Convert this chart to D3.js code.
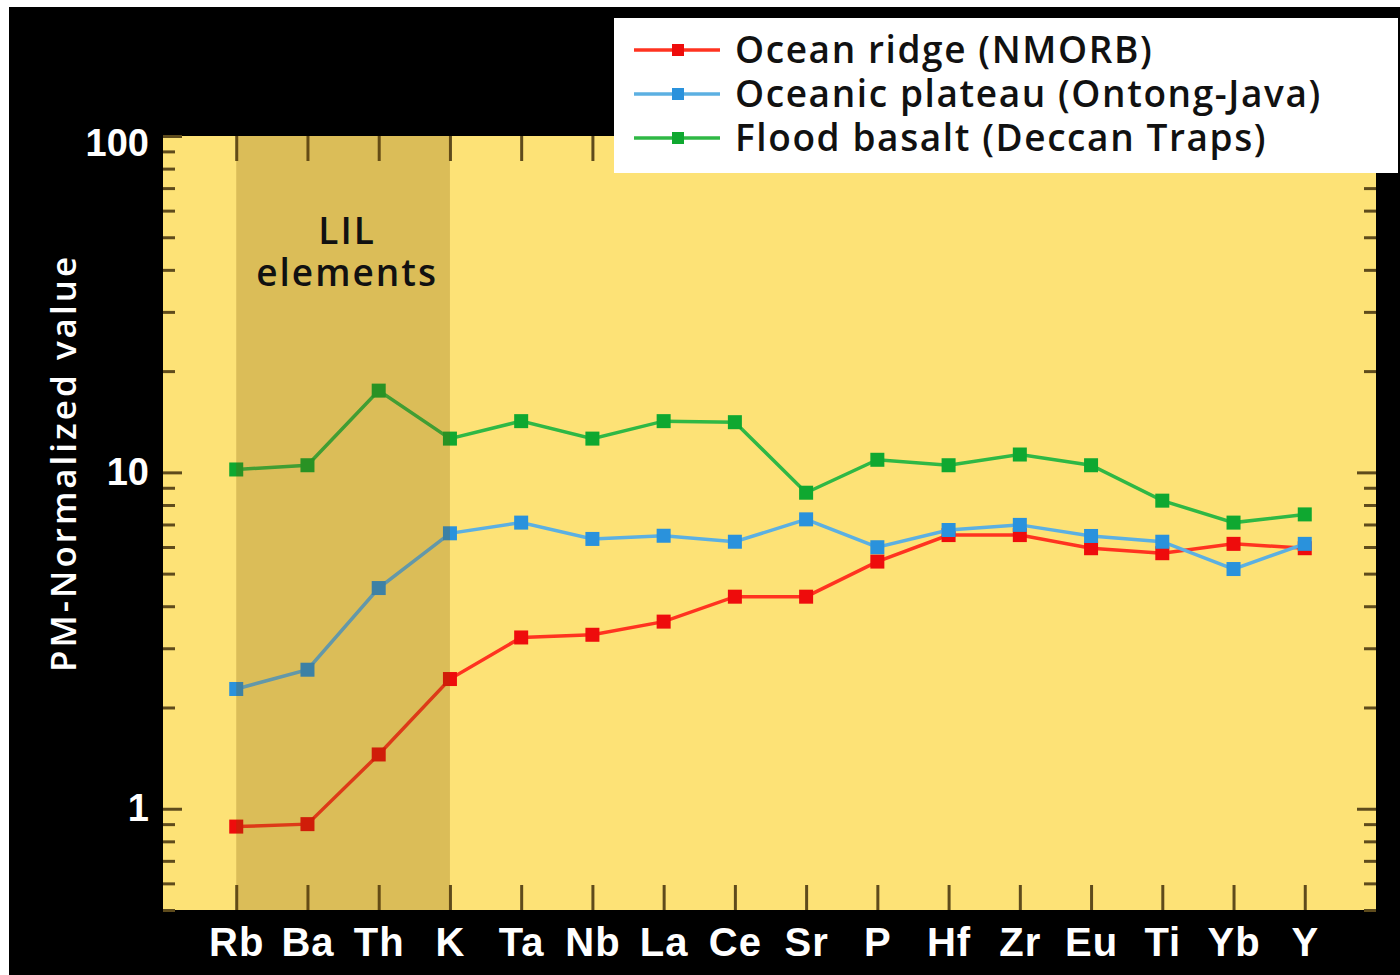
<!DOCTYPE html>
<html>
<head>
<meta charset="utf-8">
<script src="https://cdn.jsdelivr.net/npm/d3@7"></script>
<style>
  html, body { margin: 0; padding: 0; background: #fff; }
  svg { display: block; font-family: "Open Sans", "DejaVu Sans", sans-serif; }
</style>
</head>
<body>
<svg id="chart"></svg>
<script>
// element order on the x axis
var categories = ["Rb", "Ba", "Th", "K", "Ta", "Nb", "La", "Ce", "Sr", "P", "Hf", "Zr", "Eu", "Ti", "Yb", "Y"];

// primitive-mantle normalized values
var nmorb      = [0.885, 0.90, 1.45, 2.43, 3.23, 3.29, 3.60, 4.27, 4.27, 5.43, 6.51, 6.51, 5.95, 5.75, 6.13, 5.95];
var ontongJava = [2.27, 2.59, 4.53, 6.59, 7.09, 6.34, 6.48, 6.22, 7.25, 5.99, 6.74, 6.98, 6.47, 6.22, 5.16, 6.13];
var deccan     = [10.2, 10.5, 17.5, 12.6, 14.2, 12.6, 14.2, 14.1, 8.7, 10.9, 10.5, 11.3, 10.5, 8.24, 7.09, 7.5];

var seriesNames = ["Ocean ridge (NMORB)", "Oceanic plateau (Ontong-Java)", "Flood basalt (Deccan Traps)"];
var yMajorTicks = [1, 10, 100];
var lilBand = ["Rb", "K"];

var W = 1400, H = 975;
var plot = {left: 163, right: 1376, top: 136, bottom: 910};

var svg = d3.select("#chart").attr("width", W).attr("height", H);

// white frame + black backdrop
svg.append("rect").attr("width", W).attr("height", H).attr("fill", "#fff");
svg.append("rect").attr("x", 9).attr("y", 7).attr("width", W - 9).attr("height", H - 7).attr("fill", "#000");

svg.append("rect")
    .attr("x", plot.left).attr("y", plot.top)
    .attr("width", plot.right - plot.left).attr("height", plot.bottom - plot.top)
    .attr("fill", "#fde276");

var x = d3.scalePoint().domain(categories).range([plot.left + 2, plot.right]).padding(1);
var y = d3.scaleLog().domain([0.5, 100]).range([plot.bottom, plot.top]);

var yMinorTicks = y.ticks().filter(function(v) { return yMajorTicks.indexOf(v) < 0; });
var tickColor = "#5e4b1c";

function styleAxis(g) {
  g.select(".domain").remove();
  g.selectAll(".tick line").attr("stroke", tickColor).attr("stroke-width", 3);
}

// left axis
svg.append("g")
    .attr("transform", "translate(" + plot.left + ",0)")
    .call(d3.axisLeft(y).tickValues(yMinorTicks).tickSize(-12).tickFormat(""))
    .call(styleAxis);
svg.append("g")
    .attr("transform", "translate(" + plot.left + ",0)")
    .call(d3.axisLeft(y).tickValues(yMajorTicks).tickSize(-19).tickPadding(14).tickFormat(d3.format("d")))
    .call(styleAxis)
  .selectAll("text")
    .attr("fill", "#fff")
    .attr("dy", function(d) { return d === 100 ? "0.5em" : "0.32em"; })
    .style("font-size", "38px")
    .style("font-weight", 600);

// right axis
svg.append("g")
    .attr("transform", "translate(" + plot.right + ",0)")
    .call(d3.axisRight(y).tickValues(yMinorTicks).tickSize(-12).tickFormat(""))
    .call(styleAxis);
svg.append("g")
    .attr("transform", "translate(" + plot.right + ",0)")
    .call(d3.axisRight(y).tickValues(yMajorTicks).tickSize(-19).tickFormat(""))
    .call(styleAxis);

// bottom + top category ticks
svg.append("g")
    .attr("transform", "translate(0," + plot.bottom + ")")
    .call(d3.axisBottom(x).tickSize(-25).tickPadding(18))
    .call(styleAxis)
  .selectAll("text")
    .attr("fill", "#fff")
    .style("font-size", "40px")
    .style("font-weight", 600)
    .style("letter-spacing", "1px");
svg.append("g")
    .attr("transform", "translate(0," + plot.top + ")")
    .call(d3.axisTop(x).tickSize(-25).tickFormat(""))
    .call(styleAxis);

// y axis title
svg.append("text")
    .attr("transform", "translate(76," + 463 + ") rotate(-90)")
    .attr("text-anchor", "middle")
    .attr("fill", "#fff")
    .style("font-size", "35px")
    .style("font-weight", 600)
    .style("letter-spacing", "3px")
    .text("PM-Normalized value");

var series = [
  {name: seriesNames[0], values: nmorb,      line: "#ff3320", mark: "#ee0c0c"},
  {name: seriesNames[1], values: ontongJava, line: "#5cb0e2", mark: "#2a92dc"},
  {name: seriesNames[2], values: deccan,     line: "#2fb845", mark: "#0fa830"}
];

var line = d3.line()
    .x(function(d, i) { return x(categories[i]); })
    .y(function(d) { return y(d); });

series.forEach(function(s) {
  svg.append("path")
      .datum(s.values)
      .attr("fill", "none")
      .attr("stroke", s.line)
      .attr("stroke-width", 3.5)
      .attr("d", line);
  svg.selectAll(null)
      .data(s.values)
    .enter().append("rect")
      .attr("x", function(d, i) { return x(categories[i]) - 7; })
      .attr("y", function(d) { return y(d) - 7; })
      .attr("width", 14)
      .attr("height", 14)
      .attr("fill", s.mark);
});

// LIL shading sits over the lines, darkening them
var bandX0 = x(lilBand[0]), bandX1 = x(lilBand[1]);
svg.append("rect")
    .attr("x", bandX0).attr("y", plot.top)
    .attr("width", bandX1 - bandX0).attr("height", plot.bottom - plot.top)
    .attr("fill", "rgb(120,80,0)")
    .attr("fill-opacity", 0.25);

var lil = svg.append("text")
    .attr("text-anchor", "middle")
    .attr("fill", "#111")
    .style("font-size", "37px")
    .style("font-weight", 600)
    .style("letter-spacing", "2px");
lil.append("tspan").attr("x", (bandX0 + bandX1) / 2 + 4).attr("y", 244).text("LIL");
lil.append("tspan").attr("x", (bandX0 + bandX1) / 2 + 4).attr("y", 286).text("elements");

// legend
var legend = svg.append("g");
legend.append("rect")
    .attr("x", 614).attr("y", 18)
    .attr("width", 784).attr("height", 155)
    .attr("fill", "#fff");

var rows = legend.selectAll(".row")
    .data(series)
  .enter().append("g")
    .attr("class", "row")
    .attr("transform", function(d, i) { return "translate(0," + (50 + i * 44) + ")"; });

rows.append("line")
    .attr("x1", 634).attr("x2", 720)
    .attr("stroke", function(d) { return d.line; })
    .attr("stroke-width", 3.5);
rows.append("rect")
    .attr("x", 672).attr("y", -6)
    .attr("width", 12).attr("height", 12)
    .attr("fill", function(d) { return d.mark; });
rows.append("text")
    .attr("x", 735)
    .attr("dy", "0.36em")
    .attr("fill", "#111")
    .style("font-size", "37px")
    .style("font-weight", 600)
    .style("letter-spacing", "1.6px")
    .text(function(d) { return d.name; });
</script>
</body>
</html>
